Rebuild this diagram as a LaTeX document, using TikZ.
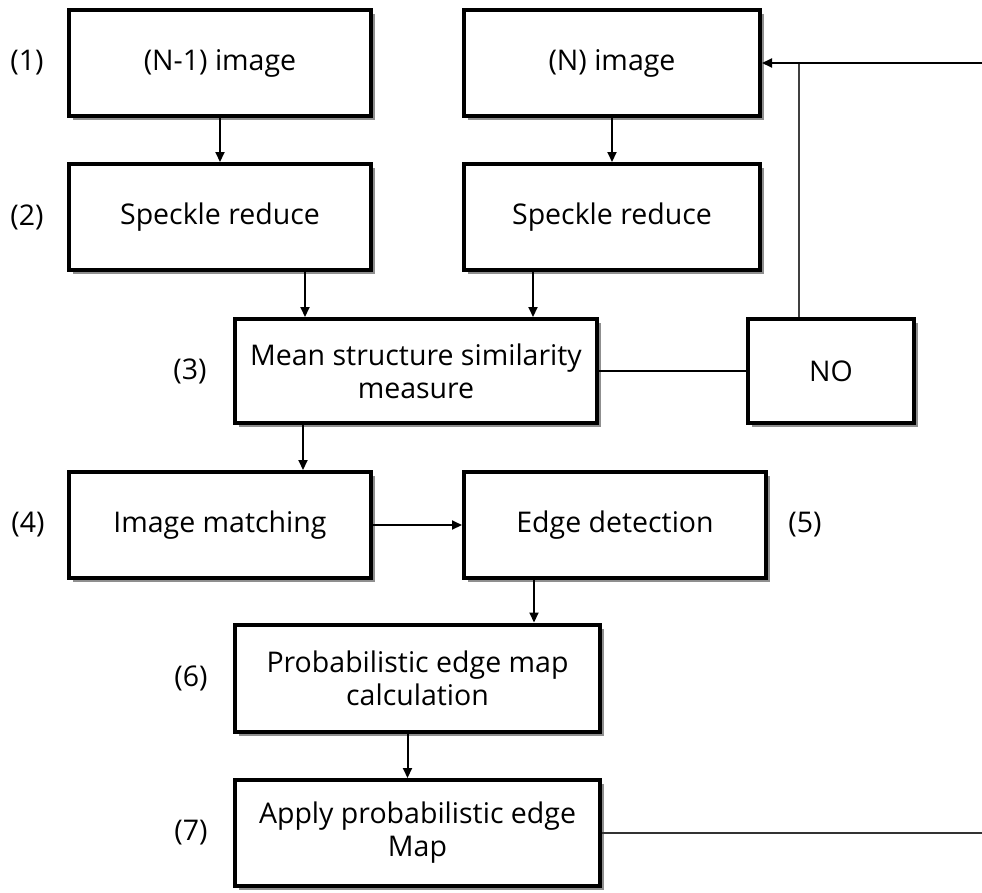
\documentclass[tikz,border=0pt]{standalone}
\usepackage{fontspec}
\setmainfont{Open Sans}
\usetikzlibrary{arrows.meta,shadows}
\begin{document}
\begin{tikzpicture}[x=1pt,y=-1pt,
  box/.style={draw=black,line width=4pt,fill=white,inner sep=0pt,align=center,
    font=\fontsize{28.5}{33}\selectfont,
    drop shadow={shadow xshift=4pt,shadow yshift=-4pt,fill=black!55,opacity=0.8}},
  lbl/.style={font=\fontsize{28.5}{33}\selectfont,inner sep=0pt},
  arr/.style={line width=2pt,-{Triangle[length=10pt,width=9pt]}},
  ln/.style={line width=1.6pt}]
\useasboundingbox (0,0) rectangle (982,892);
\node[box,minimum width=302pt,minimum height=106pt] (a1) at (220,63) {(N-1) image};
\node[box,minimum width=302pt,minimum height=106pt] (a2) at (220,217) {Speckle reduce};
\node[box,minimum width=296pt,minimum height=106pt] (n1) at (612,63) {(N) image};
\node[box,minimum width=296pt,minimum height=106pt] (n2) at (612,217) {Speckle reduce};
\node[box,minimum width=362pt,minimum height=104pt] (ms) at (416,371) {Mean structure similarity\\measure};
\node[box,minimum width=166pt,minimum height=104pt] (no) at (831,371) {NO};
\node[box,minimum width=302pt,minimum height=106pt] (im) at (220,525) {Image matching};
\node[box,minimum width=302pt,minimum height=106pt] (ed) at (615,525) {Edge detection};
\node[box,minimum width=365pt,minimum height=107pt] (pe) at (417.5,678) {Probabilistic edge map\\calculation};
\node[box,minimum width=365pt,minimum height=106pt] (ap) at (417.5,833) {Apply probabilistic edge\\Map};
\node[lbl] (l1) at (27,63) {(1)};
\node[lbl] (l2) at (27,217) {(2)};
\node[lbl] (l3) at (190,371) {(3)};
\node[lbl] (l4) at (28,525) {(4)};
\node[lbl] (l5) at (805,525) {(5)};
\node[lbl] (l6) at (191,678) {(6)};
\node[lbl] (l7) at (191,833) {(7)};
\coordinate (fbin) at (982,63);
\coordinate (fbout) at (982,833);
\coordinate (join) at (799,63);
\draw[arr] (a1) -- (a2);
\draw[arr] (n1) -- (n2);
\draw[arr] ([xshift=85pt]a2.south) -- ([xshift=85pt]a2.south |- ms.north);
\draw[arr] ([xshift=-79pt]n2.south) -- ([xshift=-79pt]n2.south |- ms.north);
\draw[arr] ([xshift=-113pt]ms.south) -- ([xshift=-113pt]ms.south |- im.north);
\draw[arr] (im) -- (ed);
\draw[arr] ([xshift=-81pt]ed.south) -- ([xshift=-81pt]ed.south |- pe.north);
\draw[arr] ([xshift=-10pt]pe.south) -- ([xshift=-10pt]pe.south |- ap.north);
\draw[ln] (ms) -- (no);
\draw[ln,draw=black!75] (no.north -| join) -- (join);
\draw[arr] (fbin) -- (n1.east);
\draw[line width=2.6pt,draw=black!80] (ap.east) -- (fbout);
\end{tikzpicture}
\end{document}
